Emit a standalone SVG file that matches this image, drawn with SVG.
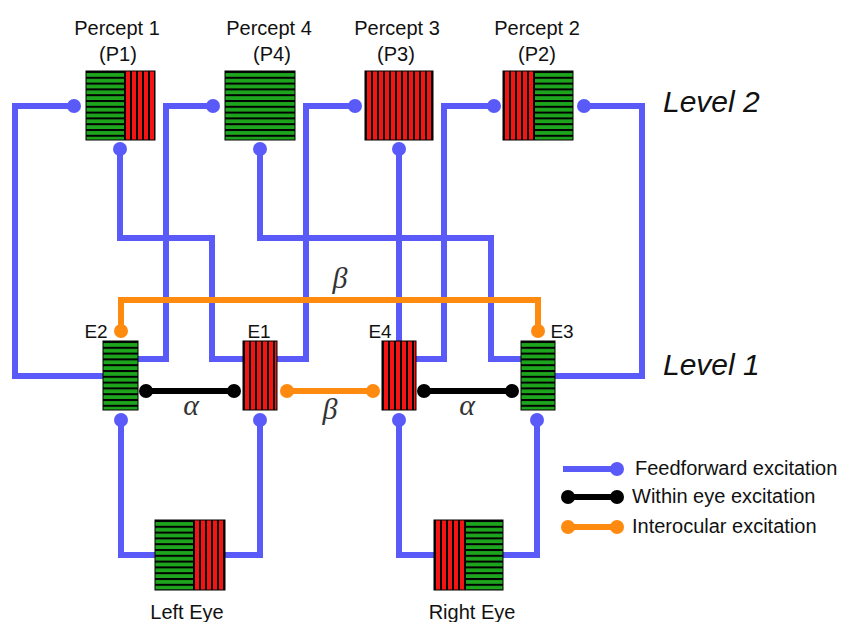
<svg xmlns="http://www.w3.org/2000/svg" width="859" height="622" viewBox="0 0 859 622">
  <style>
    .lbl { font-family: "Liberation Sans", Arial, sans-serif; font-size: 20px; fill: #111; }
    .elbl { font-family: "Liberation Sans", Arial, sans-serif; font-size: 19px; fill: #111; }
    .lvl { font-family: "Liberation Sans", Arial, sans-serif; font-size: 30px; font-style: italic; fill: #111; }
    .greek { font-family: "Liberation Serif", "Times New Roman", serif; font-size: 30px; font-style: italic; fill: #333; }
    .ff { fill: none; stroke: #5a5af8; stroke-width: 6; }
    .we { fill: none; stroke: #000; stroke-width: 6; }
    .io { fill: none; stroke: #ff8a10; stroke-width: 6; }
    .dff { fill: #5a5af8; }
    .dwe { fill: #000; }
    .dio { fill: #ff8a10; }
    .frame { fill: none; stroke: #000; stroke-width: 1; }
  </style>
  <defs>
    <!-- green with black horizontal bars -->
    <pattern id="hs" patternUnits="userSpaceOnUse" width="10" height="5.8">
      <rect width="10" height="5.8" fill="#1ea51e"/>
      <rect width="10" height="2" fill="#000"/>
    </pattern>
    <!-- red with black vertical bars -->
    <pattern id="vs" patternUnits="userSpaceOnUse" width="6" height="10">
      <rect width="6" height="10" fill="#f41414"/>
      <rect width="2" height="10" fill="#000"/>
    </pattern>
  </defs>
  <rect width="859" height="622" fill="#fff"/>

  <!-- connectors -->
  <g id="connectors">
    <g id="feedforward">
      <path class="ff" d="M74,106 H15 V376 H103"/>
      <path class="ff" d="M120,149 V238 H212 V359 H243"/>
      <path class="ff" d="M213,106 H166 V359 H138"/>
      <path class="ff" d="M260,149 V238 H491 V359 H521"/>
      <path class="ff" d="M355,106 H306 V359 H277"/>
      <path class="ff" d="M399,149 V341"/>
      <path class="ff" d="M494,106 H444 V359 H416"/>
      <path class="ff" d="M584,106 H642 V376 H555"/>
      <path class="ff" d="M121,420 V555 H155"/>
      <path class="ff" d="M260,420 V555 H225"/>
      <path class="ff" d="M399,420 V555 H434"/>
      <path class="ff" d="M537,420 V555 H503"/>
      <circle class="dff" cx="74" cy="106" r="7"/>
      <circle class="dff" cx="120" cy="149" r="7"/>
      <circle class="dff" cx="213" cy="106" r="7"/>
      <circle class="dff" cx="260" cy="149" r="7"/>
      <circle class="dff" cx="355" cy="106" r="7"/>
      <circle class="dff" cx="399" cy="149" r="7"/>
      <circle class="dff" cx="494" cy="106" r="7"/>
      <circle class="dff" cx="584" cy="106" r="7"/>
      <circle class="dff" cx="121" cy="420" r="7"/>
      <circle class="dff" cx="260" cy="420" r="7"/>
      <circle class="dff" cx="399" cy="420" r="7"/>
      <circle class="dff" cx="537" cy="420" r="7"/>
    </g>
    <g id="interocular">
      <path class="io" d="M121,331 V300 H538 V331"/>
      <circle class="dio" cx="121" cy="331" r="7"/>
      <circle class="dio" cx="538" cy="331" r="7"/>
      <path class="io" d="M287,391 H373"/>
      <circle class="dio" cx="287" cy="391" r="7"/>
      <circle class="dio" cx="373" cy="391" r="7"/>
    </g>
    <g id="within-eye">
      <path class="we" d="M146,391 H234"/>
      <circle class="dwe" cx="146" cy="391" r="7"/>
      <circle class="dwe" cx="234" cy="391" r="7"/>
      <path class="we" d="M424,391 H512"/>
      <circle class="dwe" cx="424" cy="391" r="7"/>
      <circle class="dwe" cx="512" cy="391" r="7"/>
    </g>
    <text class="greek" x="340" y="288" text-anchor="middle">β</text>
    <text class="greek" x="330" y="419" text-anchor="middle">β</text>
    <text class="greek" x="191" y="415" text-anchor="middle">α</text>
    <text class="greek" x="467" y="415" text-anchor="middle">α</text>
  </g>

  <!-- level 2 percepts -->
  <g id="p1">
    <text class="lbl" x="117" y="35" text-anchor="middle">Percept 1</text>
    <text class="lbl" x="118" y="61" text-anchor="middle">(P1)</text>
    <g transform="translate(86,71)"><rect width="38" height="69" fill="url(#hs)"/></g>
    <g transform="translate(124,71)"><rect width="31" height="69" fill="url(#vs)"/></g>
    <rect class="frame" x="86" y="71" width="69" height="69"/>
  </g>
  <g id="p4">
    <text class="lbl" x="269" y="35" text-anchor="middle">Percept 4</text>
    <text class="lbl" x="272" y="61" text-anchor="middle">(P4)</text>
    <g transform="translate(225,71)"><rect width="70" height="69" fill="url(#hs)"/></g>
    <rect class="frame" x="225" y="71" width="70" height="69"/>
  </g>
  <g id="p3">
    <text class="lbl" x="397" y="35" text-anchor="middle">Percept 3</text>
    <text class="lbl" x="396" y="61" text-anchor="middle">(P3)</text>
    <g transform="translate(365,71)"><rect width="68" height="69" fill="url(#vs)"/></g>
    <rect class="frame" x="365" y="71" width="68" height="69"/>
  </g>
  <g id="p2">
    <text class="lbl" x="537" y="35" text-anchor="middle">Percept 2</text>
    <text class="lbl" x="537" y="61" text-anchor="middle">(P2)</text>
    <g transform="translate(503,71)"><rect width="32" height="69" fill="url(#vs)"/></g>
    <g transform="translate(535,71)"><rect width="38" height="69" fill="url(#hs)"/></g>
    <rect class="frame" x="503" y="71" width="70" height="69"/>
  </g>

  <!-- level 1 units -->
  <g id="e2">
    <text class="elbl" x="96" y="338" text-anchor="middle">E2</text>
    <g transform="translate(103,341)"><rect width="35" height="69" fill="url(#hs)"/></g>
    <rect class="frame" x="103" y="341" width="35" height="69"/>
  </g>
  <g id="e1">
    <text class="elbl" x="259" y="338" text-anchor="middle">E1</text>
    <g transform="translate(243,341)"><rect width="34" height="69" fill="url(#vs)"/></g>
    <rect class="frame" x="243" y="341" width="34" height="69"/>
  </g>
  <g id="e4">
    <text class="elbl" x="380" y="338" text-anchor="middle">E4</text>
    <g transform="translate(382,341)"><rect width="34" height="69" fill="url(#vs)"/></g>
    <rect class="frame" x="382" y="341" width="34" height="69"/>
  </g>
  <g id="e3">
    <text class="elbl" x="562" y="338" text-anchor="middle">E3</text>
    <g transform="translate(521,341)"><rect width="34" height="69" fill="url(#hs)"/></g>
    <rect class="frame" x="521" y="341" width="34" height="69"/>
  </g>

  <!-- eyes -->
  <g id="left-eye">
    <g transform="translate(155,520)"><rect width="38" height="70" fill="url(#hs)"/></g>
    <g transform="translate(193,520)"><rect width="32" height="70" fill="url(#vs)"/></g>
    <rect class="frame" x="155" y="520" width="70" height="70"/>
    <text class="lbl" x="187" y="619" text-anchor="middle">Left Eye</text>
  </g>
  <g id="right-eye">
    <g transform="translate(434,520)"><rect width="32" height="70" fill="url(#vs)"/></g>
    <g transform="translate(466,520)"><rect width="37" height="70" fill="url(#hs)"/></g>
    <rect class="frame" x="434" y="520" width="69" height="70"/>
    <text class="lbl" x="472" y="619" text-anchor="middle">Right Eye</text>
  </g>

  <!-- level captions -->
  <text class="lvl" x="663" y="112">Level 2</text>
  <text class="lvl" x="663" y="375">Level 1</text>

  <!-- legend -->
  <g id="legend">
    <path class="ff" d="M563,469 H617"/>
    <circle class="dff" cx="617" cy="469" r="7"/>
    <text class="lbl" x="635" y="475">Feedforward excitation</text>
    <path class="we" d="M568,497 H617"/>
    <circle class="dwe" cx="568" cy="497" r="7"/>
    <circle class="dwe" cx="617" cy="497" r="7"/>
    <text class="lbl" x="632" y="503">Within eye excitation</text>
    <path class="io" d="M568,527 H617"/>
    <circle class="dio" cx="568" cy="527" r="7"/>
    <circle class="dio" cx="617" cy="527" r="7"/>
    <text class="lbl" x="632" y="533">Interocular excitation</text>
  </g>
</svg>
